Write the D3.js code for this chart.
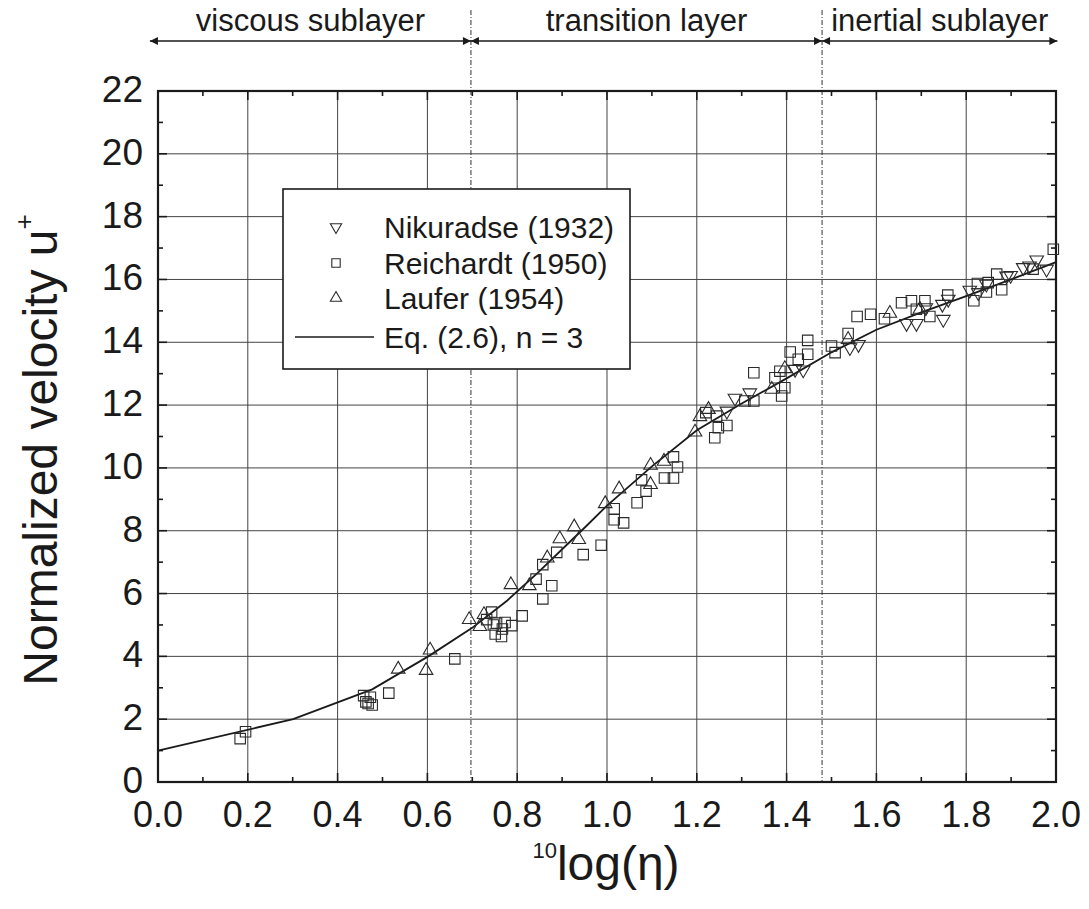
<!DOCTYPE html>
<html><head><meta charset="utf-8">
<script src="https://cdn.jsdelivr.net/npm/d3@7"></script>
<style>
body{margin:0;background:#fff}
text{font-family:"Liberation Sans",Arial,Helvetica,sans-serif;fill:#1a1a1a}
</style>
</head><body>
<svg id="chart" width="1089" height="909"></svg>
<script>
// ---------- data ----------
const xTicks = [0.0,0.2,0.4,0.6,0.8,1.0,1.2,1.4,1.6,1.8,2.0];
const yTicks = [0,2,4,6,8,10,12,14,16,18,20,22];
const seriesNames = ["Nikuradse (1932)","Reichardt (1950)","Laufer (1954)","Eq. (2.6), n = 3"];

const nikuradse = [
 [1.267,11.81],[1.285,12.22],[1.318,12.39],[1.419,13.14],[1.437,13.12],[1.541,13.83],[1.56,13.93],
 [1.667,14.6],[1.689,14.6],[1.71,15.1],[1.749,14.73],[1.747,15.21],[1.76,15.37],[1.808,15.66],
 [1.827,15.58],[1.845,15.85],[1.89,16.11],[1.899,16.13],[1.927,16.38],[1.941,16.43],[1.957,16.62],[1.979,16.33]
];
const reichardt = [
 [0.183,1.38],[0.195,1.6],
 [0.458,2.75],[0.463,2.55],[0.468,2.5],[0.473,2.7],[0.477,2.45],
 [0.514,2.83],[0.661,3.92],
 [0.732,5.17],[0.743,5.41],[0.747,5.0],[0.754,5.06],[0.773,5.08],[0.788,4.98],[0.751,4.71],[0.765,4.63],[0.767,4.87],[0.811,5.29],
 [0.857,5.83],[0.877,6.25],[0.842,6.46],[0.857,6.92],[0.888,7.31],[0.947,7.24],[0.987,7.54],
 [1.016,8.7],[1.016,8.35],[1.037,8.25],[1.067,8.89],[1.087,9.26],[1.077,9.62],
 [1.128,9.68],[1.148,9.68],[1.148,10.35],[1.157,10.03],
 [1.24,10.96],[1.248,11.28],[1.267,11.35],[1.22,11.76],[1.244,11.65],[1.307,12.13],[1.327,12.13],
 [1.327,13.03],[1.374,12.87],[1.389,12.29],[1.396,12.55],[1.385,13.08],[1.408,13.69],[1.426,13.46],[1.447,13.62],[1.447,14.06],
 [1.5,13.88],[1.508,13.67],[1.537,14.28],[1.557,14.82],[1.587,14.89],[1.618,14.75],[1.656,15.26],[1.678,15.32],
 [1.689,15.05],[1.708,15.32],[1.719,14.82],[1.759,15.5],[1.817,15.32],[1.825,15.87],[1.845,15.6],[1.849,15.9],
 [1.868,16.17],[1.879,15.67],[1.949,16.33],[1.994,16.96]
];
const laufer = [
 [0.535,3.59],[0.597,3.55],[0.606,4.2],[0.693,5.17],[0.717,4.95],[0.726,5.33],[0.786,6.28],[0.827,6.25],
 [0.867,7.13],[0.895,7.74],[0.927,8.12],[0.937,7.72],[0.996,8.86],[1.027,9.33],[1.097,9.47],[1.097,10.08],
 [1.127,10.21],[1.196,11.14],[1.207,11.63],[1.226,11.86],[1.367,12.5],[1.396,13.16],[1.537,14.09],[1.63,14.92],[1.697,15.05]
];
const eqX = [0,0.301,0.477,0.602,0.699,0.778,0.845,0.903,0.954,1.0,1.1,1.2,1.3,1.4,1.5,1.6,1.7,1.8,1.9,2.0];
const eqY = [1.0,2.0,2.95,4.0,4.9,5.78,6.65,7.45,8.15,8.8,10.05,11.2,12.05,12.85,13.68,14.4,14.95,15.47,16.0,16.55];

const layerNames = ["viscous sublayer","transition layer","inertial sublayer"];
const layerBounds = [-0.018, 0.697, 1.479, 2.003];

// ---------- layout ----------
const svg = d3.select("#chart");
const L = 158, R = 1056, T = 91, B = 782;
const x = d3.scaleLinear().domain([0,2]).range([L,R]);
const y = d3.scaleLinear().domain([0,22]).range([B,T]);
const ink = "#1a1a1a", grid = "#444";

// grid
svg.append("g").selectAll("line").data(xTicks.slice(1,-1)).join("line")
  .attr("x1",d=>x(d)).attr("x2",d=>x(d)).attr("y1",T).attr("y2",B)
  .attr("stroke",grid).attr("stroke-width",1);
svg.append("g").selectAll("line").data(yTicks.slice(1,-1)).join("line")
  .attr("y1",d=>y(d)).attr("y2",d=>y(d)).attr("x1",L).attr("x2",R)
  .attr("stroke",grid).attr("stroke-width",1);

// layer boundaries (dash-dot)
svg.append("g").selectAll("line").data(layerBounds.slice(1,-1)).join("line")
  .attr("x1",d=>x(d)).attr("x2",d=>x(d)).attr("y1",10).attr("y2",B)
  .attr("stroke","#333").attr("stroke-width",1).attr("stroke-dasharray","5,2,1,2");

// axes with inward ticks
const major = 9, minor = 5;
const xMinor = d3.range(0,2.0001,0.1);
const yMinor = d3.range(0,22.0001,1);
const tickG = svg.append("g").attr("stroke",ink).attr("stroke-width",1.6);
xMinor.forEach((v,i)=>{
  const len = (i%2===0)?major:minor;
  tickG.append("line").attr("x1",x(v)).attr("x2",x(v)).attr("y1",B).attr("y2",B-len);
  tickG.append("line").attr("x1",x(v)).attr("x2",x(v)).attr("y1",T).attr("y2",T+len);
});
yMinor.forEach((v,i)=>{
  const len = (i%2===0)?major:minor;
  tickG.append("line").attr("y1",y(v)).attr("y2",y(v)).attr("x1",L).attr("x2",L+len);
  tickG.append("line").attr("y1",y(v)).attr("y2",y(v)).attr("x1",R).attr("x2",R-len);
});
svg.append("rect").attr("x",L).attr("y",T).attr("width",R-L).attr("height",B-T)
  .attr("fill","none").attr("stroke",ink).attr("stroke-width",2.2);

// tick labels
svg.append("g").selectAll("text").data(xTicks).join("text")
  .attr("x",d=>x(d)).attr("y",827).attr("text-anchor","middle")
  .attr("font-size",36).text(d=>d.toFixed(1));
svg.append("g").selectAll("text").data(yTicks).join("text")
  .attr("x",143).attr("y",d=>y(d)+11).attr("text-anchor","end")
  .attr("font-size",37).text(d=>d);

// axis titles
const xt = svg.append("text").attr("x",606).attr("y",880).attr("text-anchor","middle").attr("font-size",48);
xt.append("tspan").attr("font-size",22).attr("dy",-22).text("10");
xt.append("tspan").attr("dy",22).text("log(η)");
const yt = svg.append("text").attr("transform","translate(57,450) rotate(-90)")
  .attr("text-anchor","middle").attr("font-size",48);
yt.append("tspan").text("Normalized velocity u");
yt.append("tspan").attr("font-size",26).attr("dy",-24).text("+");

// curve
const line = d3.line().x(d=>x(d[0])).y(d=>y(d[1]));
svg.append("path").datum(eqX.map((v,i)=>[v,eqY[i]])).attr("d",line)
  .attr("fill","none").attr("stroke",ink).attr("stroke-width",1.8);

// markers
const sqSym = d3.symbol().type(d3.symbolSquare).size(110);
const triSym = d3.symbol().type(d3.symbolTriangle).size(80);
const mk = {fill:"none",stroke:"#2a2a2a","stroke-width":1.1};
function applyMk(sel){ Object.entries(mk).forEach(([k,v])=>sel.attr(k,v)); return sel; }
applyMk(svg.append("g").selectAll("path").data(reichardt).join("path")
  .attr("transform",d=>`translate(${x(d[0])},${y(d[1])})`).attr("d",sqSym));
applyMk(svg.append("g").selectAll("path").data(laufer).join("path")
  .attr("transform",d=>`translate(${x(d[0])},${y(d[1])})`).attr("d",triSym));
applyMk(svg.append("g").selectAll("path").data(nikuradse).join("path")
  .attr("transform",d=>`translate(${x(d[0])},${y(d[1])}) rotate(180)`).attr("d",triSym));

// legend
const lg = svg.append("g");
lg.append("rect").attr("x",283).attr("y",189).attr("width",347).attr("height",180)
  .attr("fill","#fff").attr("stroke",ink).attr("stroke-width",1.6);
const rowsY = [227, 263, 298, 337];
const lSq = d3.symbol().type(d3.symbolSquare).size(70);
const lTri = d3.symbol().type(d3.symbolTriangle).size(55);
applyMk(lg.append("path").attr("transform",`translate(336,${rowsY[0]}) rotate(180)`).attr("d",lTri));
applyMk(lg.append("path").attr("transform",`translate(336,${rowsY[1]})`).attr("d",lSq));
applyMk(lg.append("path").attr("transform",`translate(336,${rowsY[2]})`).attr("d",lTri));
lg.append("line").attr("x1",295).attr("x2",374).attr("y1",rowsY[3]).attr("y2",rowsY[3])
  .attr("stroke",ink).attr("stroke-width",1.6);
lg.selectAll("text.lt").data(seriesNames).join("text").attr("class","lt")
  .attr("x",384).attr("y",(d,i)=>rowsY[i]+11).attr("font-size",30).text(d=>d);

// layer annotations
const defs = svg.append("defs");
defs.append("marker").attr("id","ah").attr("viewBox","0 0 10 10").attr("refX",10).attr("refY",5)
  .attr("markerWidth",12).attr("markerHeight",8).attr("markerUnits","userSpaceOnUse")
  .attr("orient","auto-start-reverse").append("path").attr("d","M0,0 L10,5 L0,10 z").attr("fill",ink);
const ay = 41;
layerNames.forEach((nm,i)=>{
  const a = layerBounds[i], b = layerBounds[i+1];
  svg.append("line").attr("x1",x(a)).attr("x2",x(b)).attr("y1",ay).attr("y2",ay)
    .attr("stroke",ink).attr("stroke-width",1.6)
    .attr("marker-start","url(#ah)").attr("marker-end","url(#ah)");
  svg.append("text").attr("x",x((a+b)/2)).attr("y",31).attr("text-anchor","middle")
    .attr("font-size",31).text(nm);
});
</script>
</body></html>
